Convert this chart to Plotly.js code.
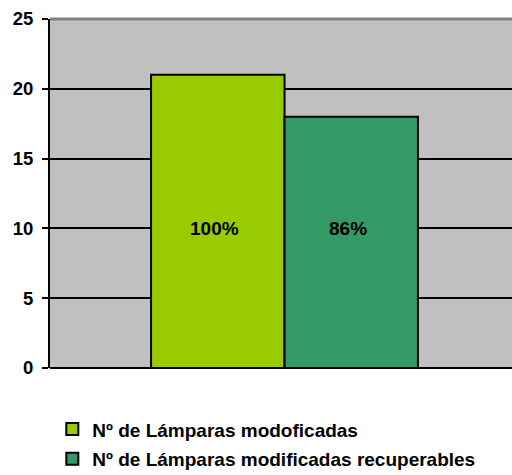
<!DOCTYPE html>
<html><head><meta charset="utf-8">
<script src="https://cdn.plot.ly/plotly-3.0.1.min.js"></script>
<style>html,body{margin:0;padding:0;background:#fff}</style>
</head><body>
<div id="chart" style="width:512px;height:475px"></div>
<script>
const categories = [""];
const seriesNames = ["Nº de Lámparas modoficadas", "Nº de Lámparas modificadas recuperables"];
const modificadas = [21];
const recuperables = [18];
const pctLabels = ["100%", "86%"];
const labelLevel = 10;
const yTicks = [0, 5, 10, 15, 20, 25];

const fam = "Liberation Sans, Arial, sans-serif";
const bold = s => "<b>" + s + "</b>";

const traces = [
  {type: "bar", x: categories, y: modificadas, name: bold(seriesNames[0]), legendgroup: "a",
   marker: {color: "#99CC00", line: {color: "#000", width: 2}}, hoverinfo: "skip"},
  {type: "bar", x: categories, y: recuperables, name: bold(seriesNames[1]), legendgroup: "b",
   marker: {color: "#339966", line: {color: "#000", width: 2}}, hoverinfo: "skip"}
];

const layout = {
  width: 512, height: 475,
  margin: {l: 50, r: 0, t: 19, b: 107, autoexpand: false},
  paper_bgcolor: "#fff", plot_bgcolor: "#C0C0C0",
  font: {family: fam, size: 19, color: "#000"},
  barmode: "group", bargap: 0.431, bargroupgap: 0,
  xaxis: {type: "category", range: [-0.5, 0.485], showticklabels: false, ticks: "",
          showgrid: false, zeroline: false, showline: false, fixedrange: true},
  yaxis: {range: [0, 25], tickvals: yTicks, ticktext: yTicks.map(v => bold(String(v))), ticks: "outside",
          ticklen: 6, tickwidth: 2, tickcolor: "#000", showline: true, linecolor: "#000", linewidth: 2,
          gridcolor: "#000", gridwidth: 2, zeroline: true, zerolinecolor: "#000", zerolinewidth: 2,
          ticklabelstandoff: 5, automargin: false,
          tickfont: {family: fam, size: 18.5, color: "#000"}, fixedrange: true},
  showlegend: true,
  legend: {orientation: "v", x: 0.005, xanchor: "left", y: -0.121, yanchor: "top",
           font: {family: fam, size: 19, color: "#000"},
           tracegroupgap: 2, itemwidth: 30, bgcolor: "rgba(0,0,0,0)"},
  shapes: [{type: "line", xref: "paper", yref: "paper", x0: 0, x1: 1, y0: 1, y1: 1,
            line: {color: "#808080", width: 3}}],
  annotations: pctLabels.map((t, i) => ({
    x: categories[0], y: labelLevel, xref: "x", yref: "y", text: bold(t), showarrow: false,
    xshift: (i === 0 ? -1 : 1) * 67,
    font: {family: fam, size: 19, color: "#000"}
  }))
};

Plotly.newPlot("chart", traces, layout, {displayModeBar: false, staticPlot: true});
</script>
</body></html>
